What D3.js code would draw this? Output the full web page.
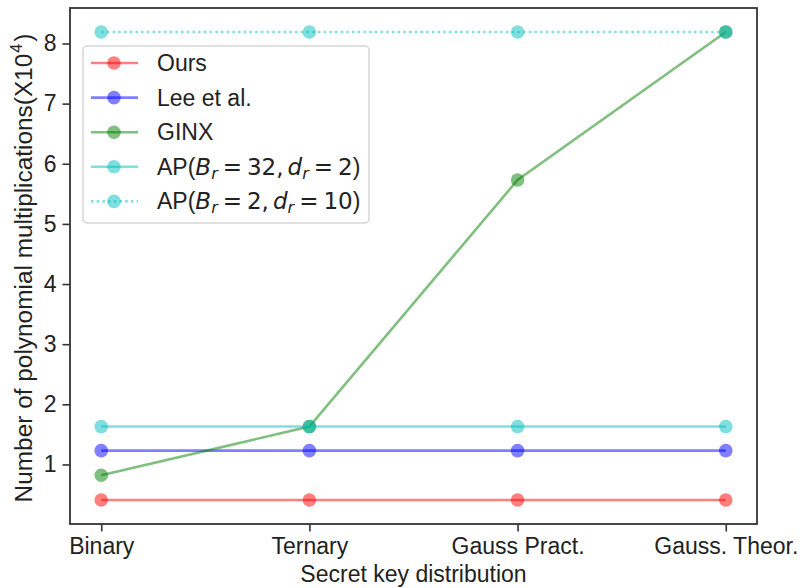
<!DOCTYPE html>
<html><head><meta charset="utf-8">
<script src="https://cdn.jsdelivr.net/npm/d3@7"></script>
<style>body{margin:0;background:#fff;} text{font-family:"Liberation Sans",Arial,sans-serif;}</style>
</head><body>
<svg id="c" width="800" height="588"></svg>
<script>
const categories = ["Binary", "Ternary", "Gauss Pract.", "Gauss. Theor."];
const yTicks = [1, 2, 3, 4, 5, 6, 7, 8];
const ours = [0.41, 0.41, 0.41, 0.41];
const lee = [1.23, 1.23, 1.23, 1.23];
const ginx = [0.82, 1.63, 5.73, 8.19];
const ap32 = [1.63, 1.63, 1.63, 1.63];
const ap2 = [8.19, 8.19, 8.19, 8.19];
const seriesNames = ["Ours", "Lee et al.", "GINX", "AP32", "AP2"];
const seriesColors = ["#ff0000", "#0000ff", "#008000", "#00bfbf", "#00bfbf"];

const series = [
  {name: "Ours", values: ours, color: seriesColors[0], dash: null},
  {name: "Lee et al.", values: lee, color: seriesColors[1], dash: null},
  {name: "GINX", values: ginx, color: seriesColors[2], dash: null},
  {name: "AP32", values: ap32, color: seriesColors[3], dash: null, b: "32", d: "2"},
  {name: "AP2", values: ap2, color: seriesColors[4], dash: "2.5,3.2", b: "2", d: "10"}
];

const FS = 23;
const svg = d3.select("#c");
const L = 70, R = 757, T = 8, B = 524;
const x = d3.scaleLinear().domain([-0.15, 3.15]).range([L, R]);
const y = d3.scaleLinear().domain([0.01, 8.59]).range([B, T]);

// series
const line = d3.line().x((d, i) => x(i)).y(d => y(d));
series.forEach(s => {
  const g = svg.append("g");
  g.append("path").attr("d", line(s.values)).attr("fill", "none")
    .attr("stroke", s.color).attr("stroke-opacity", 0.5).attr("stroke-width", 2.6)
    .attr("stroke-dasharray", s.dash);
  g.selectAll("circle").data(s.values).join("circle")
    .attr("cx", (d, i) => x(i)).attr("cy", d => y(d)).attr("r", 6.8)
    .attr("fill", s.color).attr("fill-opacity", 0.5);
});

// axes
const xAxis = d3.axisBottom(x).tickValues(d3.range(categories.length))
  .tickFormat(i => categories[i]).tickSize(7.5).tickPadding(6);
const gx = svg.append("g").attr("transform", `translate(0,${B})`).call(xAxis);
gx.select(".domain").remove();
gx.selectAll("line").attr("stroke", "#333").attr("stroke-width", 1.6);
gx.selectAll("text").attr("font-size", FS).attr("fill", "#222")
  .attr("font-family", "Liberation Sans, Arial, sans-serif");

const yAxis = d3.axisLeft(y).tickValues(yTicks).tickFormat(d3.format("d")).tickSize(7.5).tickPadding(6);
const gy = svg.append("g").attr("transform", `translate(${L},0)`).call(yAxis);
gy.select(".domain").remove();
gy.selectAll("line").attr("stroke", "#333").attr("stroke-width", 1.6);
gy.selectAll("text").attr("font-size", FS).attr("fill", "#222")
  .attr("font-family", "Liberation Sans, Arial, sans-serif");

svg.append("rect").attr("x", L).attr("y", T).attr("width", R - L).attr("height", B - T)
  .attr("fill", "none").attr("stroke", "#333").attr("stroke-width", 1.8);

// labels
svg.append("text").attr("x", (L + R) / 2).attr("y", 582).attr("text-anchor", "middle")
  .attr("font-size", FS).attr("fill", "#222").text("Secret key distribution");
const yl = svg.append("text").attr("transform", `translate(32,268) rotate(-90)`)
  .attr("text-anchor", "middle").attr("font-size", 24.4).attr("fill", "#222");
yl.append("tspan").text("Number of polynomial multiplications(X10");
yl.append("tspan").attr("font-size", 16).attr("dy", -10).attr("dx", 1).text("4");
yl.append("tspan").attr("dy", 10).attr("dx", 2).text(")");

// legend
const lg = svg.append("g");
lg.append("rect").attr("x", 83).attr("y", 46).attr("width", 286).attr("height", 177).attr("rx", 4)
  .attr("fill", "#fff").attr("fill-opacity", 0.8).attr("stroke", "#d6d6d6").attr("stroke-width", 1.5);
const rowY = i => 63 + i * 34.6;
const MF = "DejaVu Sans";
const MS = 23;
series.forEach((s, i) => {
  const yy = rowY(i);
  lg.append("line").attr("x1", 91).attr("x2", 138).attr("y1", yy).attr("y2", yy)
    .attr("stroke", s.color).attr("stroke-opacity", 0.5).attr("stroke-width", 2.6)
    .attr("stroke-dasharray", s.dash);
  lg.append("circle").attr("cx", 114).attr("cy", yy).attr("r", 6.8)
    .attr("fill", s.color).attr("fill-opacity", 0.5);
  const t = lg.append("text").attr("x", 157).attr("y", yy + 8).attr("font-size", FS).attr("fill", "#222");
  if (s.b) {
    t.append("tspan").text("AP(");
    t.append("tspan").attr("font-family", MF).attr("font-style", "italic").attr("font-size", MS).text("B");
    t.append("tspan").attr("font-family", MF).attr("font-style", "italic").attr("font-size", 16).attr("dy", 4).text("r");
    t.append("tspan").attr("font-family", MF).attr("font-size", MS).attr("dy", -4).attr("dx", 5).text("=");
    t.append("tspan").attr("font-family", MF).attr("font-size", MS).attr("dx", 5).text(s.b + ",");
    t.append("tspan").attr("font-family", MF).attr("font-style", "italic").attr("font-size", MS).attr("dx", 4).text("d");
    t.append("tspan").attr("font-family", MF).attr("font-style", "italic").attr("font-size", 16).attr("dy", 4).text("r");
    t.append("tspan").attr("font-family", MF).attr("font-size", MS).attr("dy", -4).attr("dx", 5).text("=");
    t.append("tspan").attr("font-family", MF).attr("font-size", MS).attr("dx", 5).text(s.d);
    t.append("tspan").text(")");
  } else {
    t.text(s.name);
  }
});
</script>
</body></html>
